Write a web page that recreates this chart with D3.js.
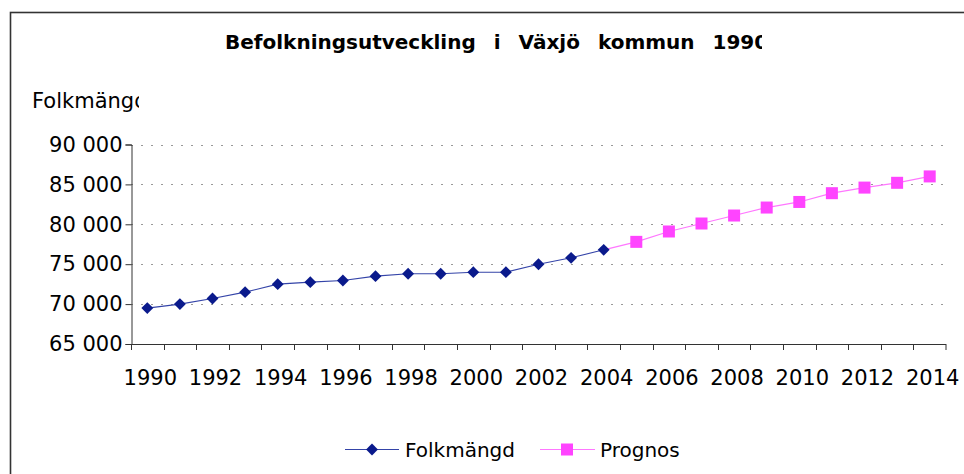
<!DOCTYPE html>
<html>
<head>
<meta charset="utf-8">
<script src="https://cdn.jsdelivr.net/npm/d3@7"></script>
<style>
  body { margin: 0; background: #fff; }
  svg { display: block; font-family: "DejaVu Sans", sans-serif; }
</style>
</head>
<body>
<svg width="964" height="474"></svg>
<script>
// years on the category axis
var years = [1990,1991,1992,1993,1994,1995,1996,1997,1998,1999,2000,2001,2002,
             2003,2004,2005,2006,2007,2008,2009,2010,2011,2012,2013,2014];
// Folkmängd 1990-2004
var folkYears = [1990,1991,1992,1993,1994,1995,1996,1997,1998,1999,2000,2001,2002,2003,2004];
var folkValues = [69500,70000,70700,71500,72500,72750,72950,73500,73800,73800,74000,74000,75000,75800,76800];
// Prognos 2004-2014 (line starts at the last real value)
var progYears = [2004,2005,2006,2007,2008,2009,2010,2011,2012,2013,2014];
var progValues = [76800,77800,79100,80100,81100,82100,82800,83900,84600,85200,86000];
var yTicks = [65000,70000,75000,80000,85000,90000];
var xLabels = [1990,1992,1994,1996,1998,2000,2002,2004,2006,2008,2010,2012,2014];

var svg = d3.select("svg");

// outer chart frame (runs off the right and bottom)
svg.append("rect").attr("x", 10.5).attr("y", 12.5).attr("width", 1000).attr("height", 500)
   .attr("fill", "none").attr("stroke", "#333").attr("stroke-width", 1.6);

var x = d3.scaleBand().domain(years).range([131, 946]);
var y = d3.scaleLinear().domain([65000, 90000]).range([344, 144.5]);
var cx = function(yr){ return x(yr) + x.bandwidth() / 2; };

// dotted gridlines
svg.append("g").selectAll("line").data(yTicks.slice(1)).enter().append("line")
   .attr("x1", 131).attr("x2", 946)
   .attr("y1", function(d){ return Math.round(y(d)) + 0.5; })
   .attr("y2", function(d){ return Math.round(y(d)) + 0.5; })
   .attr("stroke", "#999").attr("stroke-dasharray", "2,8");

// y axis
var yAxis = svg.append("g").attr("transform", "translate(131.5,0)")
   .call(d3.axisLeft(y).tickValues(yTicks).tickSize(6).tickPadding(3)
         .tickFormat(function(d){ return d3.format(",")(d).replace(",", " "); }));
yAxis.select(".domain").attr("stroke", "#333");
yAxis.selectAll(".tick line").attr("stroke", "#333");
yAxis.selectAll("text").attr("font-size", 21).attr("fill", "#000")
     .attr("font-family", "DejaVu Sans");

// x axis: ticks on category boundaries, labels every other year
var xg = svg.append("g");
xg.append("line").attr("x1", 131).attr("x2", 946).attr("y1", 344.5).attr("y2", 344.5)
  .attr("stroke", "#333");
xg.selectAll("line.t").data(years.concat([null])).enter().append("line")
  .attr("class", "t")
  .attr("x1", function(d){ return d === null ? 946 : Math.round(x(d)) + 0.5; })
  .attr("x2", function(d){ return d === null ? 946 : Math.round(x(d)) + 0.5; })
  .attr("y1", 344).attr("y2", 350).attr("stroke", "#333");
xg.selectAll("text").data(xLabels).enter().append("text")
  .attr("x", function(d){ return cx(d) + 3; }).attr("y", 385)
  .attr("text-anchor", "middle").attr("font-size", 21).text(function(d){ return d; });

// series lines
var line = d3.line().x(function(d){ return cx(d[0]); }).y(function(d){ return y(d[1]); });
var prog = d3.zip(progYears, progValues);
var folk = d3.zip(folkYears, folkValues);

svg.append("path").datum(prog).attr("d", line).attr("fill", "none")
   .attr("stroke", "#ff77ff").attr("stroke-width", 1.2);
svg.selectAll("rect.prog").data(prog.slice(1)).enter().append("rect")
   .attr("class", "prog")
   .attr("x", function(d){ return cx(d[0]) - 6; }).attr("y", function(d){ return y(d[1]) - 6; })
   .attr("width", 12).attr("height", 12).attr("fill", "#ff44ff");

svg.append("path").datum(folk).attr("d", line).attr("fill", "none")
   .attr("stroke", "#3444a8").attr("stroke-width", 1.1);
var diamond = d3.symbol().type(d3.symbolDiamond2).size(90);
svg.selectAll("path.folk").data(folk).enter().append("path")
   .attr("class", "folk").attr("d", diamond)
   .attr("transform", function(d){ return "translate(" + cx(d[0]) + "," + y(d[1]) + ")"; })
   .attr("fill", "#0a1a8c");

// title (clipped like in the original)
svg.append("clipPath").attr("id", "tclip").append("rect")
   .attr("x", 0).attr("y", 0).attr("width", 762).attr("height", 80);
svg.append("text").attr("clip-path", "url(#tclip)")
   .attr("x", 225).attr("y", 49).attr("font-size", 20).attr("font-weight", "bold")
   .attr("word-spacing", 11).style("white-space", "pre")
   .text("Befolkningsutveckling i Växjö kommun 1990-2014");

// y-axis title, clipped
svg.append("clipPath").attr("id", "yclip").append("rect")
   .attr("x", 0).attr("y", 80).attr("width", 139).attr("height", 40);
svg.append("text").attr("clip-path", "url(#yclip)")
   .attr("x", 32).attr("y", 108).attr("font-size", 21).text("Folkmängd");

// legend
var lg = svg.append("g");
lg.append("line").attr("x1", 345).attr("x2", 399).attr("y1", 449.5).attr("y2", 449.5)
  .attr("stroke", "#3444a8").attr("stroke-width", 1.1);
lg.append("path").attr("d", diamond).attr("transform", "translate(372,449.5)").attr("fill", "#0a1a8c");
lg.append("text").attr("x", 405).attr("y", 457).attr("font-size", 20).text("Folkmängd");
lg.append("line").attr("x1", 540).attr("x2", 595).attr("y1", 449.5).attr("y2", 449.5)
  .attr("stroke", "#ff77ff").attr("stroke-width", 1.2);
lg.append("rect").attr("x", 561).attr("y", 443.5).attr("width", 12).attr("height", 12).attr("fill", "#ff44ff");
lg.append("text").attr("x", 600).attr("y", 457).attr("font-size", 20).text("Prognos");
</script>
</body>
</html>
